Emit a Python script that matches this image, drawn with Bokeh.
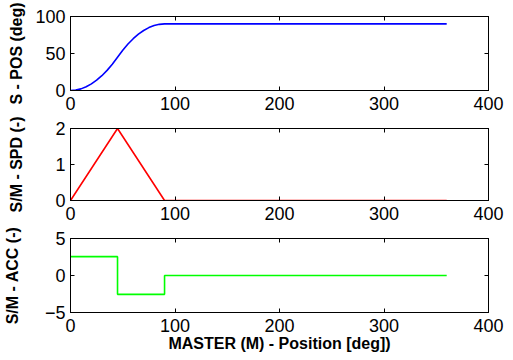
from bokeh.plotting import figure
from bokeh.layouts import column
from bokeh.models import Range1d, LinearAxis, FixedTicker
from bokeh.embed import file_html
from bokeh.resources import INLINE

# ---- data ----
pos_x = [0, 5, 10, 15, 20, 25, 30, 35, 40, 45, 50, 55, 60, 65, 70, 75, 80, 85, 90, 360]
pos_y = [0, 0.6, 2.2, 5, 8.9, 13.9, 20, 27.2, 35.6, 45, 54.4, 62.8, 70, 76.1, 81.1, 85, 87.8, 89.4, 90, 90]

spd_x = [0, 45, 90, 360]
spd_y = [0, 2, 0, 0]

acc_x = [0, 45, 45, 90, 90, 360]
acc_y = [2.55, 2.55, -2.55, -2.55, 0, 0]

x_ticks = [0, 100, 200, 300, 400]
pos_ticks = [0, 50, 100]
spd_ticks = [0, 1, 2]
acc_ticks = [-5, 0, 5]

FONT = "Liberation Sans"


def make(xs, ys, color, ylo, yhi, yticks, ylabel, lab_standoff, height, top, bottom, xlabel=None):
    p = figure(width=505, height=height, output_backend="svg", toolbar_location=None,
               x_range=Range1d(0, 400), y_range=Range1d(ylo, yhi),
               min_border_left=61, min_border_right=17, min_border_top=top, min_border_bottom=bottom,
               background_fill_color="white", border_fill_color="white")
    p.xgrid.visible = False
    p.ygrid.visible = False
    p.outline_line_color = "black"
    p.outline_line_width = 1
    p.line(xs, ys, line_color=color, line_width=1.6)

    for ax in (p.xaxis[0], p.yaxis[0]):
        ax.major_tick_in = 4
        ax.major_tick_out = 0
        ax.minor_tick_line_color = None
        ax.major_label_text_font = FONT
        ax.major_label_text_font_size = "18px"
        ax.major_label_text_color = "black"
        ax.axis_line_color = "black"
        ax.major_tick_line_color = "black"
        ax.axis_label_text_font = FONT
        ax.axis_label_text_font_size = "16px"
        ax.axis_label_text_font_style = "bold"
        ax.axis_label_text_color = "black"
    p.xaxis[0].ticker = FixedTicker(ticks=x_ticks)
    p.xaxis[0].major_label_standoff = 6
    p.yaxis[0].ticker = FixedTicker(ticks=yticks)
    p.yaxis[0].major_label_standoff = 5
    p.yaxis[0].axis_label = ylabel
    p.yaxis[0].axis_label_standoff = lab_standoff
    if xlabel:
        p.xaxis[0].axis_label = xlabel
        p.xaxis[0].axis_label_standoff = 0

    for loc, tk in (("above", x_ticks), ("right", yticks)):
        ax = LinearAxis(ticker=FixedTicker(ticks=tk), major_tick_in=4, major_tick_out=0,
                        minor_tick_line_color=None, major_label_text_font_size="0px",
                        major_label_text_color=None,
                        major_label_standoff=0, axis_line_color="black",
                        major_tick_line_color="black")
        p.add_layout(ax, loc)
    return p


p1 = make(pos_x, pos_y, "#0000ff", 0, 100, pos_ticks, "S - POS (deg)", 7, 117, 16, 27)
p2 = make(spd_x, spd_y, "#ff0000", 0, 2, spd_ticks, "S/M - SPD (-)", 27, 110, 11, 27)
p3 = make(acc_x, acc_y, "#00ff00", -5, 5, acc_ticks, "S/M - ACC (-)", 21, 133, 11, 48,
          xlabel="MASTER (M) - Position [deg])")

layout = column(p1, p2, p3, spacing=0)
open("out.html", "w").write(file_html(layout, INLINE))
